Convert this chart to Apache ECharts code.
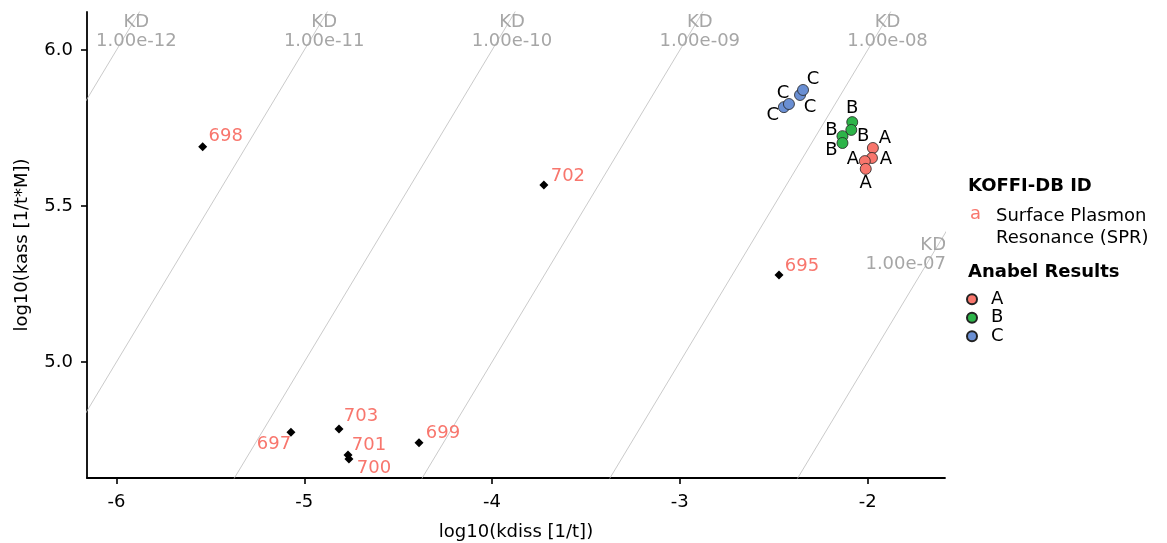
<!DOCTYPE html>
<html>
<head>
<meta charset="utf-8">
<script src="https://cdn.jsdelivr.net/npm/echarts@6/dist/echarts.min.js"></script>
<style>
  html, body { margin: 0; padding: 0; background: #fff; }
  #main { width: 1167px; height: 543px; }
</style>
</head>
<body>
<div id="main"></div>
<script>
// KOFFI-DB reference entries (SPR)
const koffiIds = ["698", "702", "695", "697", "703", "701", "700", "699"]
const koffiKdiss = [-5.541, -3.724, -2.472, -5.071, -4.815, -4.767, -4.762, -4.389]
const koffiKass = [5.690, 5.567, 5.279, 4.775, 4.785, 4.702, 4.689, 4.741]
// label nudges (px) for the ids, like ggrepel put them
const koffiNudge = [[23, -10], [24, -9], [23, -9], [-17, 12], [22, -13], [21, -10], [25, 9], [24, -9]]

// Anabel results
const anabelNames = ["A", "B", "C"]
const anabelKdiss = [
  [-1.972, -1.977, -2.015, -2.010],
  [-2.082, -2.087, -2.134, -2.134],
  [-2.446, -2.419, -2.360, -2.344],
]
const anabelKass = [
  [5.686, 5.654, 5.644, 5.619],
  [5.769, 5.744, 5.724, 5.702],
  [5.817, 5.827, 5.856, 5.872],
]
const anabelNudge = [
  [[12, -10], [14, 1], [-12, -2], [0, 14]],
  [[0, -14], [12, 6], [-11, -6], [-11, 7]],
  [[-11, 8], [-6, -11], [10, 12], [10, -11]],
]
const anabelColors = ["#F8766D", "#2DB449", "#6A8FD3"]

// KD iso-lines
const kdValues = [1e-12, 1e-11, 1e-10, 1e-9, 1e-8, 1e-7]

const xTicks = [-6, -5, -4, -3, -2]
const yTicks = [5.0, 5.5, 6.0]
const xMin = -6.157, xMax = -1.588
const yMin = 4.628, yMax = 6.122

const FONT = "DejaVu Sans"

function kdText(v) {
  let s = v.toExponential(2)
  s = s.replace(/e([+-])(\d)$/, "e$10$2")
  return "KD\n" + s
}

let myChart = echarts.init(document.getElementById("main"))

let series = []

// KD lines + labels
kdValues.forEach((kd) => {
  let lk = Math.log10(kd)
  series.push({
    type: "line",
    silent: true,
    symbol: "none",
    clip: true,
    lineStyle: { color: "#bdbdbd", width: 0.8 },
    data: [[xMin - 1, xMin - 1 - lk], [xMax + 1, xMax + 1 - lk]],
    z: 1,
  })
  let topX = yMax + lk
  let onTop = topX <= xMax
  let pt = onTop ? [topX, yMax] : [xMax, xMax - lk]
  series.push({
    type: "scatter",
    silent: true,
    symbolSize: 0,
    data: [pt],
    z: 2,
    itemStyle: { opacity: 1 },
    label: {
      show: true,
      position: "inside",
      formatter: kdText(kd),
      color: "#a6a6a6",
      fontFamily: FONT,
      fontSize: 18,
      lineHeight: 19,
      align: onTop ? "center" : "right",
      offset: onTop ? [-3, 20] : [1, 21],
    },
  })
})

// KOFFI points
series.push({
  type: "scatter",
  name: "KOFFI",
  symbol: "diamond",
  symbolSize: 9,
  itemStyle: { color: "#000", opacity: 1 },
  z: 5,
  data: koffiIds.map((id, i) => ({
    value: [koffiKdiss[i], koffiKass[i]],
    label: { offset: koffiNudge[i] },
  })),
  label: {
    show: true,
    position: "inside",
    formatter: (p) => koffiIds[p.dataIndex],
    color: "#F8766D",
    fontFamily: FONT,
    fontSize: 18,
  },
})

// Anabel results
anabelNames.forEach((nm, k) => {
  series.push({
    type: "scatter",
    name: nm,
    symbol: "circle",
    symbolSize: 11,
    itemStyle: { color: anabelColors[k], borderColor: "#222", borderWidth: 0.8, opacity: 1 },
    z: 6,
    data: anabelKdiss[k].map((x, i) => ({
      value: [x, anabelKass[k][i]],
      label: { offset: anabelNudge[k][i] },
    })),
    label: {
      show: true,
      position: "inside",
      formatter: nm,
      color: "#000",
      fontFamily: FONT,
      fontSize: 18,
    },
  })
})

myChart.setOption({
  animation: false,
  grid: { left: 87, right: 222, top: 12, bottom: 65, outerBoundsMode: "none" },
  xAxis: {
    type: "value",
    min: xMin,
    max: xMax,
    name: "log10(kdiss [1/t])",
    nameLocation: "middle",
    nameGap: 45,
    nameTextStyle: { color: "#000", fontFamily: FONT, fontSize: 18 },
    axisLine: { show: true, onZero: false, lineStyle: { color: "#000", width: 1.8 } },
    axisTick: { show: true, length: 6, customValues: xTicks, lineStyle: { color: "#000", width: 1.6 } },
    axisLabel: {
      customValues: xTicks,
      margin: 15,
      color: "#000",
      fontFamily: FONT,
      fontSize: 18,
      formatter: (v) => String(Math.round(v)),
    },
    splitLine: { show: false },
  },
  yAxis: {
    type: "value",
    min: yMin,
    max: yMax,
    name: "log10(kass [1/t*M])",
    nameLocation: "middle",
    nameGap: 56,
    nameTextStyle: { color: "#000", fontFamily: FONT, fontSize: 18 },
    axisLine: { show: true, onZero: false, lineStyle: { color: "#000", width: 1.8 } },
    axisTick: { show: true, length: 6, customValues: yTicks, lineStyle: { color: "#000", width: 1.6 } },
    axisLabel: {
      customValues: yTicks,
      margin: 14,
      color: "#000",
      fontFamily: FONT,
      fontSize: 18,
      formatter: (v) => v.toFixed(1),
    },
    splitLine: { show: false },
  },
  legend: {
    data: anabelNames,
    orient: "vertical",
    left: 961,
    top: 285,
    itemWidth: 28,
    itemHeight: 10,
    itemGap: 0,
    selectedMode: false,
    textStyle: { color: "#000", fontFamily: FONT, fontSize: 18, lineHeight: 18.5 },
  },
  graphic: [
    { type: "text", left: 968, top: 177, style: { text: "KOFFI-DB ID", font: "bold 18px " + FONT, fill: "#000" } },
    { type: "text", left: 970, top: 205, style: { text: "a", font: "18px " + FONT, fill: "#F8766D" } },
    { type: "text", left: 996, top: 205, style: { text: "Surface Plasmon\nResonance (SPR)", font: "18px " + FONT, fill: "#000", lineHeight: 22 } },
    { type: "text", left: 968, top: 263, style: { text: "Anabel Results", font: "bold 18px " + FONT, fill: "#000" } },
  ],
  series: series,
})

window.addEventListener("resize", () => {
  myChart.resize()
})
</script>
</body>
</html>
